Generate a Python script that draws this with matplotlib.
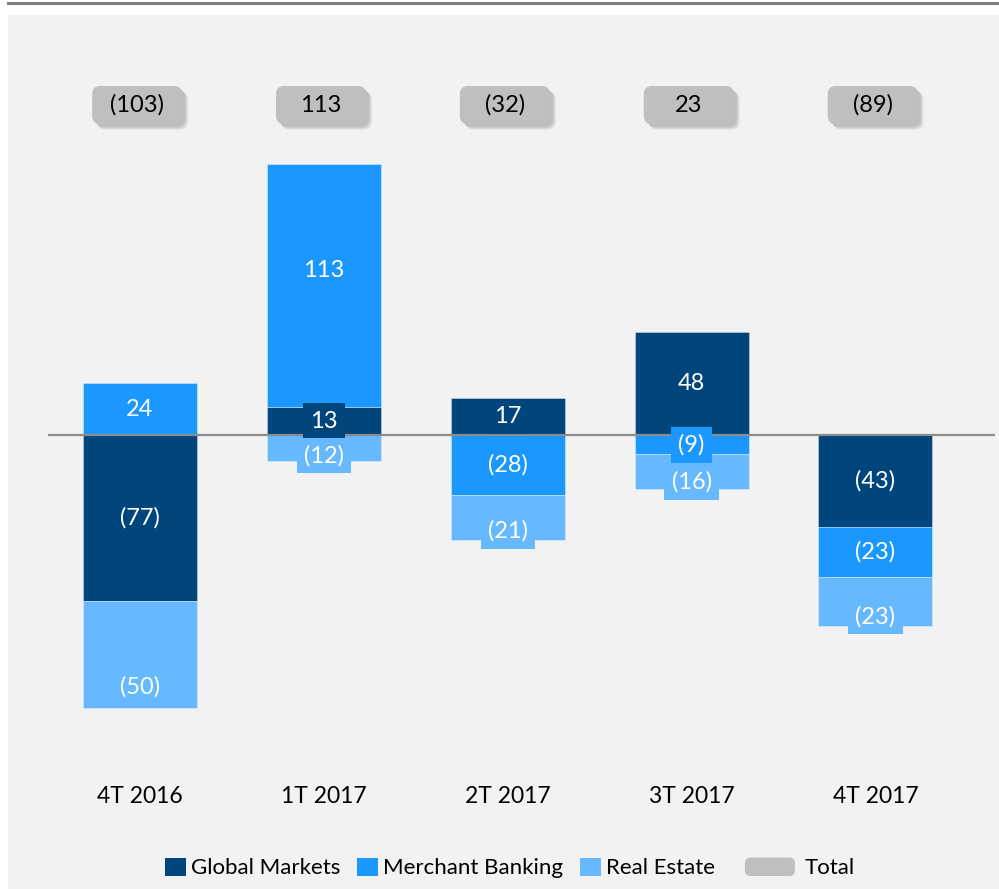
import matplotlib.pyplot as plt
import matplotlib.patheffects as pe
from matplotlib.patches import FancyBboxPatch, Rectangle, Patch
from matplotlib.legend_handler import HandlerPatch
import numpy as np

plt.rcParams['font.family'] = ['Lato', 'DejaVu Sans']

quarters = ["4T 2016", "1T 2017", "2T 2017", "3T 2017", "4T 2017"]
global_markets = [-77, 13, 17, 48, -43]
merchant_banking = [24, 113, -28, -9, -23]
real_estate = [-50, -12, -21, -16, -23]
totals = [-103, 113, -32, 23, -89]

series = [
    ("Global Markets", global_markets, "#00457c"),
    ("Merchant Banking", merchant_banking, "#1a98ff"),
    ("Real Estate", real_estate, "#66b8ff"),
]
TOTAL_COLOR = "#bfbfbf"

# soft shadow for the grey total boxes
shadow = [pe.SimplePatchShadow(offset=(o, -o), shadow_rgbFace="#7f7f7f", alpha=0.18)
          for o in (4, 3, 2)] + [pe.Normal()]


def fmt(v):
    return "(%d)" % abs(v) if v < 0 else "%d" % v


fig = plt.figure(figsize=(9.99, 8.89), dpi=100)
fig.patch.set_facecolor("white")
# light panel and top rule
fig.patches.append(Rectangle((8 / 999, 0), 991 / 999, 874 / 889,
                             transform=fig.transFigure, facecolor="#f2f2f2",
                             edgecolor="none", zorder=-5))
fig.lines.append(plt.Line2D([8 / 999, 1], [1 - 2.5 / 889, 1 - 2.5 / 889],
                            transform=fig.transFigure, color="#808080", lw=2.2,
                            zorder=-5))

ax = fig.add_axes([48 / 999, 109 / 889, 947 / 999, 750 / 889])
ax.set_facecolor("none")
ax.set_xlim(-0.5, 4.65)
ax.set_ylim(-160.5, 188.4)
ax.axis("off")

x = np.arange(len(quarters))
width = 0.62
pos_base = np.zeros(len(x))
neg_base = np.zeros(len(x))
for name, vals, color in series:
    vals = np.array(vals, dtype=float)
    bottoms = np.where(vals >= 0, pos_base, neg_base)
    ax.bar(x, vals, width, bottom=bottoms, color=color,
           edgecolor=(1, 1, 1, 0.35), linewidth=0.7, label=name, zorder=2)
    for xi, v, b in zip(x, vals, bottoms):
        if name == "Real Estate":
            # labels sit near the outer end of the bar
            ty = b + v + 0.2 * abs(v)
        elif v > 100:
            ty = b + v / 2 + 7
        else:
            ty = b + v / 2
        ax.text(xi, ty, fmt(v), ha="center", va="center", color="white",
                fontsize=17, zorder=5,
                bbox=dict(boxstyle="square,pad=0.3", facecolor=color,
                          edgecolor="none"))
    pos_base += np.where(vals >= 0, vals, 0)
    neg_base += np.where(vals < 0, vals, 0)

ax.axhline(0, color="#8c8c8c", lw=1.6, zorder=3)

# total boxes
box_w, box_h, box_y = 0.49, 17.7, 153.5
aspect = (1 / 2.15) / (1 / 184.0)
for xi, t in zip(x, totals):
    p = FancyBboxPatch((xi - 0.015 - box_w / 2, box_y - box_h / 2), box_w, box_h,
                       boxstyle="round,pad=0,rounding_size=0.045",
                       mutation_aspect=aspect, facecolor=TOTAL_COLOR,
                       edgecolor="none", zorder=4)
    p.set_path_effects(shadow)
    ax.add_patch(p)
    ax.text(xi - 0.015, box_y, fmt(t), ha="center", va="center", fontsize=17,
            color="black", zorder=5)

for xi, q in zip(x, quarters):
    ax.text(xi, -168, q, ha="center", va="center", fontsize=16.5, color="black",
            clip_on=False)


def total_handle(legend, orig_handle, xdescent, ydescent, width, height, fontsize):
    p = FancyBboxPatch((-xdescent, -ydescent), width, height,
                       boxstyle="round,pad=0,rounding_size=4", facecolor=TOTAL_COLOR,
                       edgecolor="none")
    p.set_path_effects(shadow)
    return p


handles = [Patch(facecolor=c, label=n) for n, _, c in series]
leg1 = fig.legend(handles=handles, loc="center", bbox_to_anchor=(440 / 999, 21 / 889),
                  ncol=3, frameon=False, fontsize=16, handlelength=0.95,
                  handleheight=0.9, handletextpad=0.22, columnspacing=0.77,
                  borderpad=0.2)
tot = Patch(facecolor=TOTAL_COLOR, label="Total")
leg2 = fig.legend(handles=[tot], loc="center", bbox_to_anchor=(800 / 999, 21 / 889),
                  frameon=False, fontsize=16, handlelength=2.25, handleheight=0.9,
                  handletextpad=0.45, borderpad=0.2,
                  handler_map={tot: HandlerPatch(patch_func=total_handle)})

fig.savefig("out.png", dpi=100, facecolor=fig.get_facecolor())
